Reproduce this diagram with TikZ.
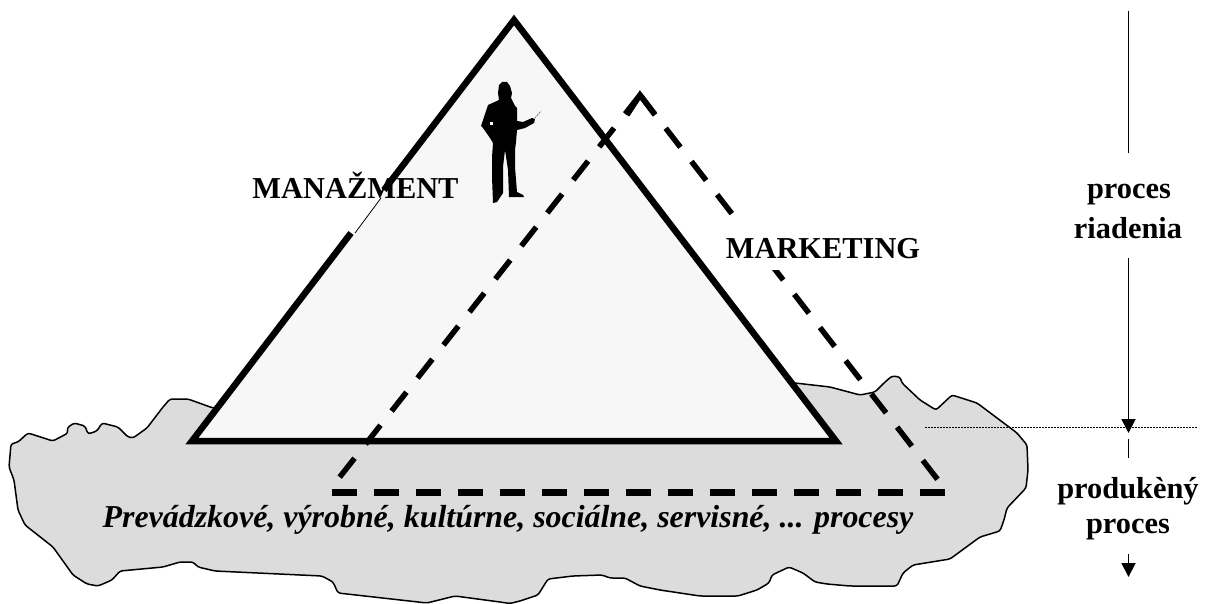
\documentclass[tikz,border=0pt]{standalone}
\usepackage{fontspec}
\setmainfont{Liberation Serif}
\usetikzlibrary{arrows.meta}
\tikzset{
  blob/.style={fill=blobgray,draw=black,line width=1.5,line join=round,rounded corners=2.5},
  thickside/.style={draw=black,line width=6.5,line join=miter,miter limit=10},
  diag/.style={draw=black,line width=5.5,dash pattern=on 24 off 18},
  chevron/.style={draw=black,line width=5.5,line join=miter},
  bottomdash/.style={draw=black,line width=7,dash pattern=on 25 off 17},
  lab/.style={anchor=base,inner sep=0pt,font=\fontsize{30.4}{30}\selectfont\bfseries},
  flow/.style={draw=black,line width=1.8},
  flowarrow/.style={flow,-{Triangle[length=14,width=14]}},
}
\definecolor{blobgray}{HTML}{DCDCDC}
\definecolor{pyr}{HTML}{F7F7F7}
\begin{document}
\begin{tikzpicture}[x=1pt,y=-1pt]
\useasboundingbox (0,0) rectangle (1209,604);
% land mass
\path[blob] (213,408)--(188,399)--(170,399)--(163,407)--(147,428)--(133,438)--(128,437)--(118,427)--(102,423)--(97,431)--(88,434)--(85,426)--(74,423)--(67,428)--(68,433)--(53,441)--(28,433)--(18,442)--(11,444)--(9,467)--(14,480)--(18,510)--(25,525)--(53,547)--(73,575)--(87,584)--(98,586)--(112,580)--(120,571)--(163,567)--(180,562)--(193,562)--(198,567)--(215,571)--(322,576)--(333,582)--(338,593)--(427,603)--(455,596)--(500,602)--(510,603.5)--(520,601)--(538,595)--(548,579)--(573,576)--(602,575)--(610,578)--(625,578)--(640,586)--(660,590)--(700,596)--(738,596)--(757,590)--(769,583)--(772,575)--(789,567)--(803,573)--(815,582)--(827,584)--(850,586)--(897,586)--(903,573)--(913,565)--(950,559)--(980,537)--(1000,531)--(1004,520)--(1007,508)--(1026,488)--(1028,470)--(1027,445)--(1017,433)--(977,403)--(952,395)--(936,410)--(920,400)--(902,383)--(900,377)--(892,376)--(885,382)--(875,392)--(860,395)--(830,387)--(795,383)--cycle;
% pyramid
\coordinate (apex) at (514,20);
\coordinate (bl) at (192,441);
\coordinate (br) at (836,441);
\coordinate (gapa) at (384,190);
\coordinate (gapb) at (351,233);
\coordinate (thina) at (381,198);
\coordinate (thinb) at (355,233);
\fill[pyr] (apex)--(gapa)--(thina)--(thinb)--(bl)--(br)--cycle;
\draw[thickside] (gapb)--(bl)--(br)--(apex)--(gapa);
\draw[black,line width=0.8] (thina)--(thinb);
% person
\fill[black] (499,85)--(502,82)--(507,82)--(510,86)--(512,93)--(511,98)--(515,106)--(517,108)--(517,121)--(523,122)--(532,118)--(535,119)--(534,123)--(525,128)--(517,130)--(516,142)--(515,150)--(515,167)--(517,192)--(523,195)--(524,197)--(509,197)--(508,170)--(505,150)--(503,167)--(503,193)--(497,202)--(493,203)--(492,177)--(492,157)--(493,143)--(490,138)--(483,128)--(481,126)--(488,105)--(499,100)--(498,93)--cycle;
\fill[pyr] (490,122) rectangle (493,125);
\draw[black!60,line width=0.7,dash pattern=on 2 off 1] (535,118)--(541,111);
% marketing triangle
\coordinate (mtop) at (640,95);
\coordinate (mleft) at (339,478);
\coordinate (mright) at (938,480);
\coordinate (chl) at (627,115);
\coordinate (chr) at (655,115);
\coordinate (mbl) at (332,492.5);
\coordinate (mbr) at (945,492.5);
\draw[diag] (mtop)--(mleft);
\draw[diag] (mtop)--(mright);
\draw[chevron] (chl)--(mtop)--(chr);
\draw[bottomdash] (mbl)--(mbr);
\fill[white] (722,224) rectangle (925,270);
% labels
\node[lab] (manaz) at (355.5,198) {MANAŽMENT};
\node[lab] (mark) at (823,258) {MARKETING};
\node[lab,font=\fontsize{31.9}{32}\selectfont\bfseries\itshape] (proc) at (508,527) {Prevádzkové, výrobné, kultúrne, sociálne, servisné, ... procesy};
\node[lab] (pr1) at (1129,198) {proces};
\node[lab] (pr2) at (1128,238) {riadenia};
\node[lab] (pv1) at (1128,498) {produkèný};
\node[lab] (pv2) at (1128,533) {proces};
% flow axis
\coordinate (f1) at (1128.5,11);
\coordinate (f2) at (1128.5,153);
\coordinate (f3) at (1128.5,258);
\coordinate (f4) at (1128.5,433);
\coordinate (f5) at (1128.5,439);
\coordinate (f6) at (1128.5,458);
\coordinate (f7) at (1128.5,554);
\coordinate (f8) at (1128.5,577);
\draw[flow] (f1)--(f2);
\draw[flowarrow] (f3)--(f4);
\draw[flow] (f5)--(f6);
\draw[flowarrow] (f7)--(f8);
% dotted boundary
\coordinate (da) at (925,427.5);
\coordinate (db) at (1197,427.5);
\draw[black,line width=1.5,dash pattern=on 1.5 off 1.5] (da)--(db);
\end{tikzpicture}
\end{document}
